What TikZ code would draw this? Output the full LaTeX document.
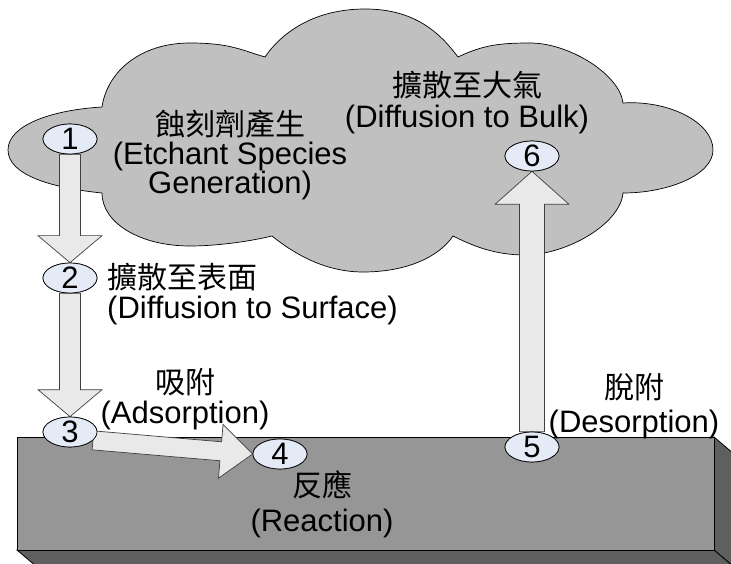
\documentclass[tikz,border=0pt]{standalone}
\usepackage{fontspec}
\setmainfont{Liberation Sans}
\newfontfamily\cjk{Noto Sans CJK TC}
\usetikzlibrary{calc,shapes.geometric}
\definecolor{cloudgray}{HTML}{C0C0C0}
\definecolor{frontgray}{HTML}{969696}
\definecolor{sidegray}{HTML}{5F5F5F}
\definecolor{arrowfill}{HTML}{E9E9E9}
\definecolor{arrowline}{HTML}{404040}
\definecolor{ovalfill}{HTML}{E4EAF6}
\tikzset{
  cloudst/.style={draw=black, line width=0.7pt, fill=cloudgray},
  slab/.style={draw=black, line width=0.8pt, fill=frontgray},
  slabside/.style={draw=black, line width=0.8pt, fill=sidegray},
  barrow/.style={draw=arrowline, line width=0.7pt, fill=arrowfill, line join=miter},
  oval/.style={ellipse, draw=black, line width=0.7pt, fill=ovalfill, inner sep=-3pt,
    minimum width=54pt, minimum height=30pt, font=\fontsize{31}{33}\selectfont},
  lat/.style={inner sep=0pt, font=\fontsize{31}{33}\selectfont, anchor=base},
  han/.style={inner sep=0pt, font=\cjk\fontsize{30}{33}\selectfont, anchor=base}
}
% block arrow: #1 from, #2 to, #3 shaft half width, #4 head half width, #5 head length
\newcommand\blockarr[5]{%
  \coordinate (hb) at ($(#2)!#5!(#1)$);
  \draw[barrow] ($(#1)!#3!90:(#2)$) -- ($(hb)!#3!-90:(#1)$) -- ($(hb)!#4!-90:(#1)$)
    -- (#2) -- ($(hb)!#4!90:(#1)$) -- ($(hb)!#3!90:(#1)$) -- ($(#1)!#3!-90:(#2)$) -- cycle;}
\begin{document}
\begin{tikzpicture}[x=1pt,y=-1pt]
\useasboundingbox (0,0) rectangle (731,564);
\fill[white] (0,0) rectangle (731,564);
\clip (0,0) rectangle (731,564);
% slab
\draw[slabside] (714,437) -- (734,454) -- (734,567) -- (714,550) -- cycle;
\draw[slabside] (17,550) -- (714,550) -- (734,567) -- (37,567) -- cycle;
\draw[slab] (17,437) rectangle (714,550);
% cloud
\draw[cloudst] (102,193)
 .. controls (52,188) and (8,175) .. (8,150)
 .. controls (8,125) and (52,110) .. (102,107)
 .. controls (107,72) and (140,43) .. (190,43)
 .. controls (230,43) and (241,50) .. (265,57)
 .. controls (282,32) and (315,9) .. (365,9)
 .. controls (415,9) and (440,33) .. (458,57)
 .. controls (483,45) and (500,43) .. (530,43)
 .. controls (570,43) and (620,75) .. (623,103)
 .. controls (668,100) and (713,122) .. (713,150)
 .. controls (713,175) and (668,193) .. (623,193)
 .. controls (620,225) and (565,255) .. (525,255)
 .. controls (495,255) and (473,246) .. (453,236)
 .. controls (438,258) and (405,272) .. (363,272)
 .. controls (323,272) and (292,252) .. (272,236)
 .. controls (247,242) and (215,246) .. (190,246)
 .. controls (140,246) and (102,223) .. (102,193)
 -- cycle;
% step markers (positions)
\coordinate (p1) at (70,139);
\coordinate (p2) at (70,278);
\coordinate (p3) at (70,432);
\coordinate (p4) at (280,454);
\coordinate (p5) at (532,447);
\coordinate (p6) at (532,156);
\path (p1) node[oval] (e1) {\phantom{1}}
      (p2) node[oval] (e2) {\phantom{2}}
      (p3) node[oval] (e3) {\phantom{3}}
      (p4) node[oval] (e4) {\phantom{4}}
      (p5) node[oval] (e5) {\phantom{5}}
      (p6) node[oval] (e6) {\phantom{6}};
% arrows
\blockarr{e1.south}{e2.north}{10.5pt}{32pt}{27pt}
\blockarr{e2.south}{e3.north}{10.5pt}{32pt}{27pt}
\blockarr{e3.-20}{e4.west}{9.5pt}{27pt}{32pt}
\blockarr{e5.north}{e6.south}{12.5pt}{37pt}{33pt}
% ovals on top
\node[oval] (n1) at (p1) {1};
\node[oval] (n2) at (p2) {2};
\node[oval] (n3) at (p3) {3};
\node[oval] (n4) at (p4) {4};
\node[oval] (n5) at (p5) {5};
\node[oval] (n6) at (p6) {6};
% labels
\node[han] (t1a) at (230,136) {蝕刻劑產生};
\node[lat] (t1b) at (230,165) {(Etchant Species};
\node[lat] (t1c) at (230,194) {Generation)};
\node[han, anchor=base west] (t2a) at (107,288) {擴散至表面};
\node[lat, anchor=base west] (t2b) at (107,318) {(Diffusion to Surface)};
\node[han] (t3a) at (185,393) {吸附};
\node[lat] (t3b) at (185,423) {(Adsorption)};
\node[han] (t4a) at (322,496) {反應};
\node[lat] (t4b) at (322,531) {(Reaction)};
\node[han] (t5a) at (634,398) {脫附};
\node[lat] (t5b) at (634,432) {(Desorption)};
\node[han] (t6a) at (467,97) {擴散至大氣};
\node[lat] (t6b) at (467,128) {(Diffusion to Bulk)};
\end{tikzpicture}
\end{document}
